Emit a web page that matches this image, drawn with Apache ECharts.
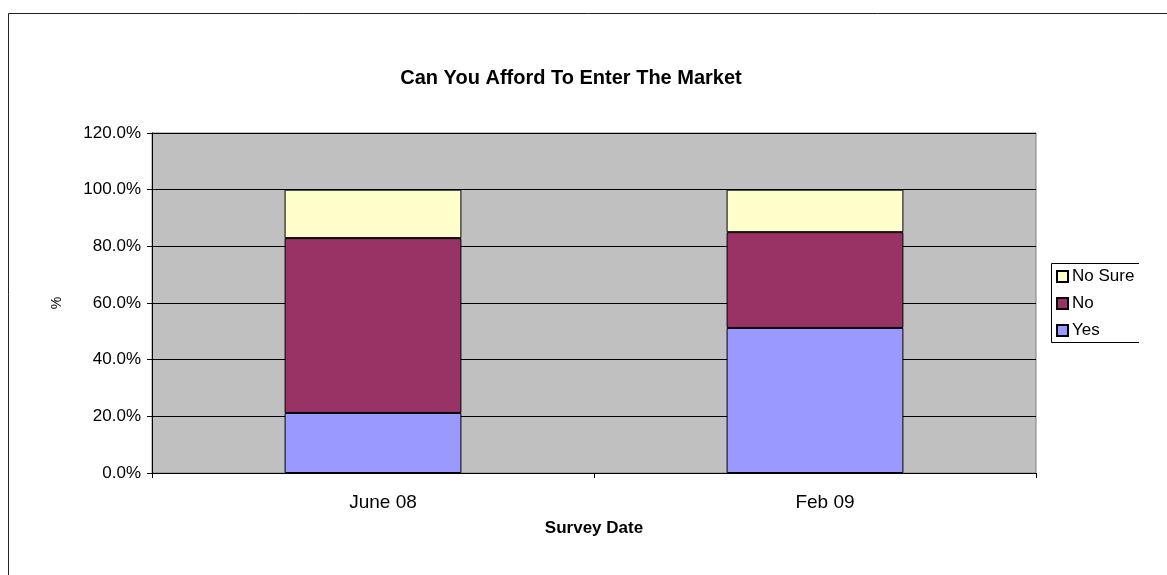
<!DOCTYPE html>
<html>
<head>
<meta charset="utf-8">
<script src="https://cdn.jsdelivr.net/npm/echarts@6/dist/echarts.min.js"></script>
<style>
    html, body { margin: 0; padding: 0; background: #fff; }
    #chart { width: 1167px; height: 575px; }
</style>
</head>
<body>
<div id="chart"></div>
<script>
    // survey data (percent)
    var surveyDates = ['June 08', 'Feb 09'];
    var yesData = [21.2, 51.2];
    var noData = [61.7, 33.8];
    var noSureData = [17.1, 15.0];
    var legendNames = ['No Sure', 'No', 'Yes'];

    var myChart = echarts.init(document.getElementById('chart'));

    var font = 'Liberation Sans, Arial, sans-serif';

    var option = {
        animation: false,
        title: {
            text: 'Can You Afford To Enter The Market',
            left: 566,
            textAlign: 'center',
            top: 63,
            textStyle: {
                fontFamily: font,
                fontSize: 20,
                fontWeight: 'bold',
                color: '#000'
            }
        },
        legend: {
            orient: 'vertical',
            left: 1056,
            top: 268,
            data: legendNames,
            icon: 'rect',
            itemWidth: 11,
            itemHeight: 11,
            itemGap: 10,
            padding: 0,
            textStyle: {
                fontFamily: font,
                fontSize: 17,
                color: '#000',
                padding: [0, 0, 0, -1]
            }
        },
        graphic: [
            {
                // outer chart frame (left and top only visible)
                type: 'polyline',
                shape: { points: [[8.5, 575], [8.5, 13.5], [1167, 13.5]] },
                style: { stroke: '#222', lineWidth: 1, fill: null }
            },
            {
                // legend frame
                type: 'polyline',
                shape: { points: [[1139, 263.5], [1051.5, 263.5], [1051.5, 342.5], [1139, 342.5]] },
                style: { stroke: '#000', lineWidth: 1, fill: null }
            }
        ],
        grid: {
            left: 152,
            right: 131,
            top: 133,
            bottom: 102,
            show: true,
            backgroundColor: '#c0c0c0',
            borderColor: '#808080',
            borderWidth: 1
        },
        xAxis: {
            type: 'category',
            data: surveyDates,
            name: 'Survey Date',
            nameLocation: 'middle',
            nameGap: 47,
            nameTextStyle: {
                fontFamily: font,
                fontSize: 17,
                fontWeight: 'bold',
                color: '#000'
            },
            axisLine: { lineStyle: { color: '#000', width: 1 } },
            axisTick: { show: true, length: 5, lineStyle: { color: '#000' } },
            axisLabel: {
                margin: 20,
                padding: [0, 0, 0, 20],
                fontFamily: font,
                fontSize: 19,
                color: '#000'
            },
            splitLine: { show: false }
        },
        yAxis: {
            type: 'value',
            min: 0,
            max: 120,
            interval: 20,
            name: '%',
            nameLocation: 'middle',
            nameGap: 88,
            nameRotate: 90,
            nameTextStyle: {
                fontFamily: font,
                fontSize: 14,
                color: '#000'
            },
            axisLine: { show: true, lineStyle: { color: '#000', width: 1 } },
            axisTick: { show: true, length: 5, lineStyle: { color: '#000' } },
            axisLabel: {
                margin: 11,
                fontFamily: font,
                fontSize: 17,
                color: '#000',
                formatter: function (v) { return v.toFixed(1) + '%'; }
            },
            splitLine: { show: true, lineStyle: { color: '#000', width: 1 } }
        },
        series: [
            {
                name: 'Yes',
                type: 'bar',
                stack: 'total',
                barWidth: '40%',
                data: yesData,
                itemStyle: { color: '#9999ff', borderColor: '#000', borderWidth: 1 }
            },
            {
                name: 'No',
                type: 'bar',
                stack: 'total',
                barWidth: '40%',
                data: noData,
                itemStyle: { color: '#993366', borderColor: '#000', borderWidth: 1 }
            },
            {
                name: 'No Sure',
                type: 'bar',
                stack: 'total',
                barWidth: '40%',
                data: noSureData,
                itemStyle: { color: '#ffffcc', borderColor: '#000', borderWidth: 1 }
            }
        ]
    };

    myChart.setOption(option, true);
</script>
</body>
</html>
